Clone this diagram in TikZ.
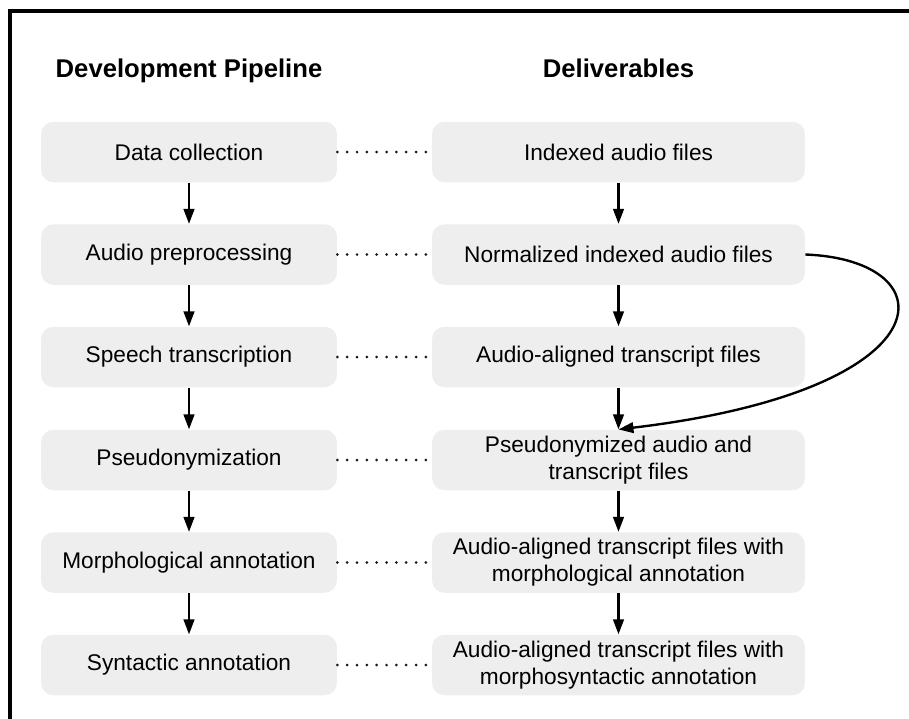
\documentclass[tikz,border=0pt]{standalone}
\usepackage{fontspec}
\setmainfont{Liberation Sans}
\usepackage{tikz}
\usetikzlibrary{shapes,arrows,positioning,calc,arrows.meta}

\definecolor{boxgray}{HTML}{EEEEEE}

\tikzset{
    stage/.style={fill=boxgray, rounded corners=7pt, align=center, inner sep=2pt,
        minimum height=1.21cm, font=\fontsize{12.9}{15.5}\selectfont},
    devbox/.style={stage, minimum width=5.92cm},
    delbox/.style={stage, minimum width=7.46cm},
    flow/.style={-{Triangle[length=8.5pt,width=6pt]}, line width=1.35pt},
    link/.style={line width=1.7pt, line cap=round, dash pattern=on 0pt off 5.6pt, black!90},
    heading/.style={anchor=base, font=\fontsize{14.6}{17}\selectfont\bfseries}
}

\begin{document}
\begin{tikzpicture}[x=0.02cm, y=-0.02cm]
    \useasboundingbox (0,0) rectangle (909,718);

    % Frame
    \draw[line width=1.8pt] (10,740) -- (10,11) -- (930,11);

    % Headings
    \node[heading] (hdev) at (189,77) {Development Pipeline};
    \node[heading] (hdel) at (618.5,77) {Deliverables};

    % Pipeline
    \node[devbox] (collect) at (189,152) {Data collection};
    \node[devbox] (preproc) at (189,254.5) {Audio preprocessing};
    \node[devbox] (transcr) at (189,357) {Speech transcription};
    \node[devbox] (pseudo) at (189,460) {Pseudonymization};
    \node[devbox] (morph) at (189,562.5) {Morphological annotation};
    \node[devbox] (syntax) at (189,665) {Syntactic annotation};

    % Deliverables
    \node[delbox] (audio) at (618.5,152) {Indexed audio files};
    \node[delbox] (normal) at (618.5,254.5) {Normalized indexed audio files};
    \node[delbox] (aligned) at (618.5,357) {Audio-aligned transcript files};
    \node[delbox] (pseudofiles) at (618.5,460) {Pseudonymized audio and\\transcript files};
    \node[delbox] (morphfiles) at (618.5,562.5) {Audio-aligned transcript files with\\morphological annotation};
    \node[delbox] (synfiles) at (618.5,665) {Audio-aligned transcript files with\\morphosyntactic annotation};

    % Pipeline arrows
    \draw[flow] (collect) -- (preproc);
    \draw[flow] (preproc) -- (transcr);
    \draw[flow] (transcr) -- (pseudo);
    \draw[flow] (pseudo) -- (morph);
    \draw[flow] (morph) -- (syntax);

    % Deliverable arrows
    \draw[flow] (audio) -- (normal);
    \draw[flow] (normal) -- (aligned);
    \draw[flow] (aligned) -- (pseudofiles);
    \draw[flow] (pseudofiles) -- (morphfiles);
    \draw[flow] (morphfiles) -- (synfiles);

    % Skip: normalized audio goes straight to pseudonymization
    \draw[flow] (normal.east) .. controls (950,260) and (950,390) .. (pseudofiles.north);

    % Dotted links
    \draw[link] (collect) -- (audio);
    \draw[link] (preproc) -- (normal);
    \draw[link] (transcr) -- (aligned);
    \draw[link] (pseudo) -- (pseudofiles);
    \draw[link] (morph) -- (morphfiles);
    \draw[link] (syntax) -- (synfiles);
\end{tikzpicture}
\end{document}
